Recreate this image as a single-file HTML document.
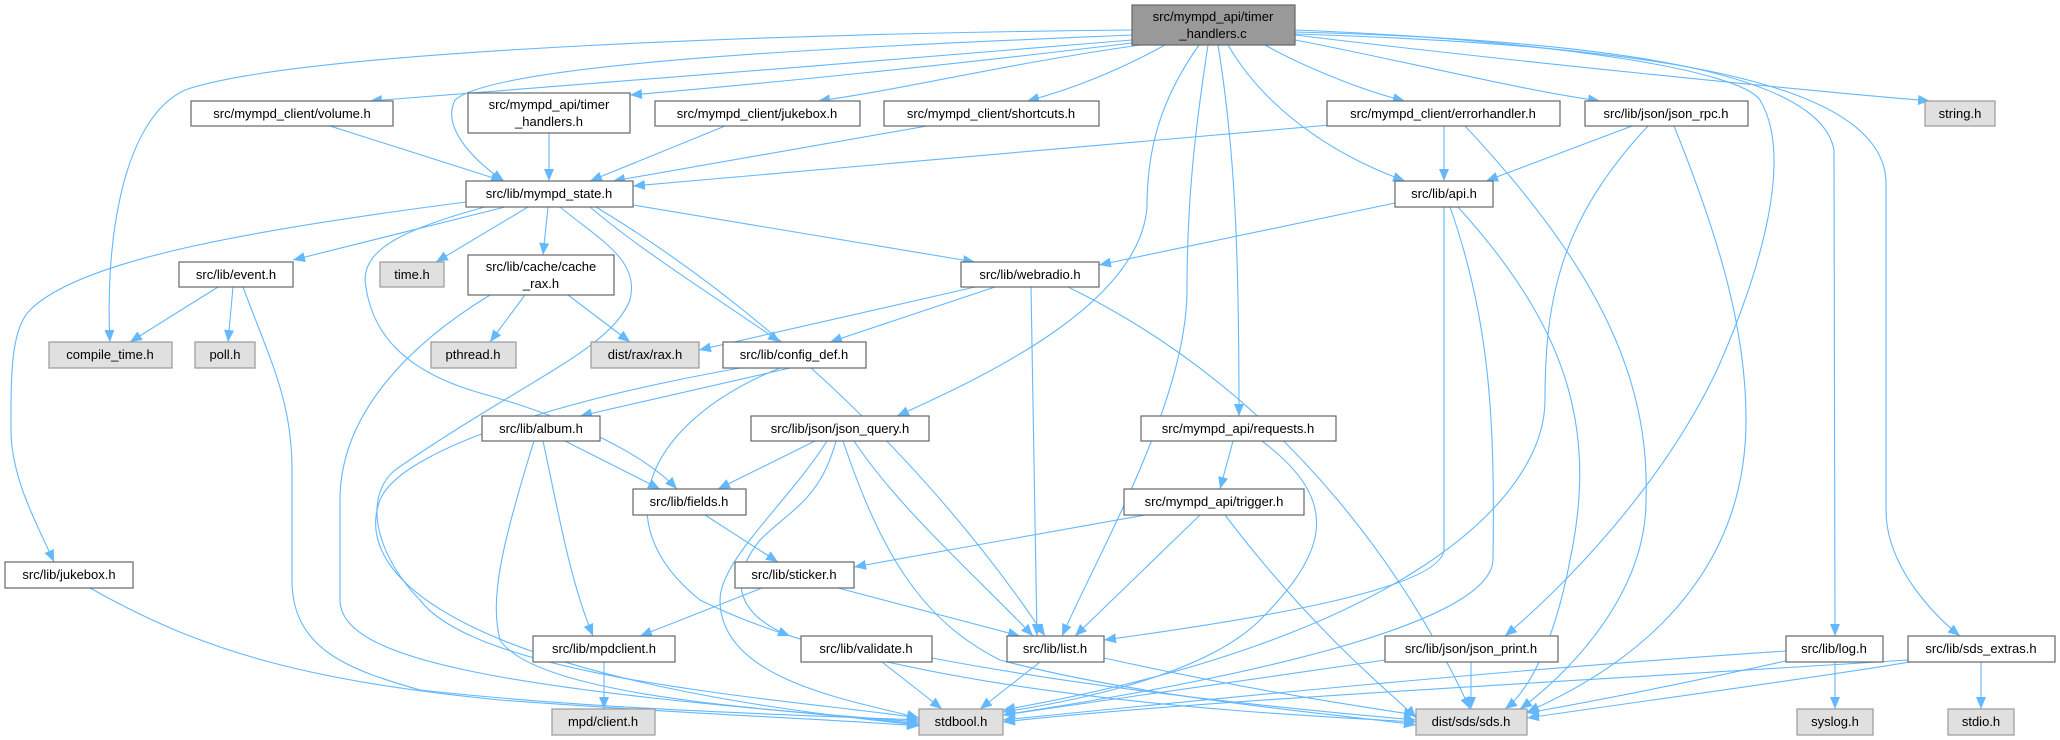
<!DOCTYPE html>
<html><head><meta charset="utf-8"><style>
html,body{margin:0;padding:0;background:#fff;}
svg{display:block;}
text{font-family:"Liberation Sans",Arial,sans-serif;font-size:13px;fill:#000;}
.n{fill:#fff;stroke:#666;stroke-width:1.2}
.g{fill:#e0e0e0;stroke:#999;stroke-width:1.2}
.e path{fill:none;stroke:#63b8ff;stroke-width:1.1}
</style></head><body>
<svg width="2060" height="740" viewBox="0 0 2060 740" xmlns="http://www.w3.org/2000/svg">
<defs><marker id="a" markerUnits="userSpaceOnUse" markerWidth="14" markerHeight="12" refX="12" refY="5" orient="auto"><path d="M0,0 L12,5 L0,10 z" fill="#63b8ff"/></marker></defs>
<g class="e" marker-end="url(#a)">
<path marker-end="url(#a)" d="M1132,30 C800,33 300,50 185,90 C120,120 105,250 110,342"/>
<path marker-end="url(#a)" d="M1132,35 C900,45 500,60 455,100 C440,130 480,165 504,181"/>
<path marker-end="url(#a)" d="M1132,40 C900,60 500,90 370,101"/>
<path marker-end="url(#a)" d="M1132,43 C950,65 750,85 630,95"/>
<path marker-end="url(#a)" d="M1140,45 C1000,65 900,90 818,101"/>
<path marker-end="url(#a)" d="M1165,45 C1120,70 1070,90 1027,101"/>
<path marker-end="url(#a)" d="M1265,45 C1300,65 1360,90 1405,101"/>
<path marker-end="url(#a)" d="M1295,40 C1400,60 1520,90 1600,101"/>
<path marker-end="url(#a)" d="M1295,35 C1500,60 1800,90 1930,101"/>
<path marker-end="url(#a)" d="M1228,45 C1260,100 1320,150 1405,181"/>
<path marker-end="url(#a)" d="M1199,45 C1160,100 1147,150 1147,207 C1140,300 1000,370 897,416"/>
<path marker-end="url(#a)" d="M1208,45 C1195,130 1187,200 1187,290 C1187,400 1100,550 1062,636"/>
<path marker-end="url(#a)" d="M1218,45 C1235,150 1239,250 1239,416"/>
<path marker-end="url(#a)" d="M1295,30 C1550,40 1740,70 1760,100 C1790,150 1770,250 1717,370 C1660,490 1560,590 1505,636"/>
<path marker-end="url(#a)" d="M1295,32 C1600,40 1820,70 1834,150 L1835,636"/>
<path marker-end="url(#a)" d="M1295,34 C1650,45 1880,80 1886,180 L1886,510 C1886,570 1940,620 1960,636"/>
<path marker-end="url(#a)" d="M330,126 L503,181"/>
<path marker-end="url(#a)" d="M549,133 L549,181"/>
<path marker-end="url(#a)" d="M725,126 L590,181"/>
<path marker-end="url(#a)" d="M927,126 L613,181"/>
<path marker-end="url(#a)" d="M1330,125 L633,186"/>
<path marker-end="url(#a)" d="M1444,126 L1444,181"/>
<path marker-end="url(#a)" d="M1465,126 C1600,270 1650,380 1646,500 C1646,600 1560,680 1520,709"/>
<path marker-end="url(#a)" d="M1458,207 C1560,320 1600,420 1570,560 C1555,640 1530,690 1505,709"/>
<path marker-end="url(#a)" d="M1450,207 C1490,320 1495,420 1493,560 C1490,640 1100,700 1003,715"/>
<path marker-end="url(#a)" d="M1444,207 L1444,550 C1440,590 1250,620 1104,640"/>
<path marker-end="url(#a)" d="M1395,203 L1099,265"/>
<path marker-end="url(#a)" d="M1632,126 L1486,181"/>
<path marker-end="url(#a)" d="M1648,126 C1560,220 1545,300 1545,400 C1545,500 1400,640 1003,710"/>
<path marker-end="url(#a)" d="M1674,126 C1720,240 1746,330 1746,420 C1746,600 1600,680 1527,712"/>
<path marker-end="url(#a)" d="M466,202 C250,230 80,260 30,310 C10,330 11,380 11,430 C11,480 40,530 54,562"/>
<path marker-end="url(#a)" d="M505,207 L293,260"/>
<path marker-end="url(#a)" d="M528,207 L436,262"/>
<path marker-end="url(#a)" d="M548,207 L543,255"/>
<path marker-end="url(#a)" d="M633,205 L975,262"/>
<path marker-end="url(#a)" d="M590,207 C640,250 720,300 780,342"/>
<path marker-end="url(#a)" d="M485,207 C400,230 365,250 365,280 C370,330 400,370 480,393 C560,415 640,450 677,489"/>
<path marker-end="url(#a)" d="M596,207 C750,300 920,450 1045,636"/>
<path marker-end="url(#a)" d="M560,207 C600,240 640,260 630,300 C610,350 525,380 395,470 C360,500 380,560 420,600 C480,680 800,700 919,718"/>
<path marker-end="url(#a)" d="M218,287 L130,342"/>
<path marker-end="url(#a)" d="M233,287 L228,342"/>
<path marker-end="url(#a)" d="M243,287 C270,360 292,400 292,470 L292,580 C292,650 350,670 420,690 C600,710 800,715 919,720"/>
<path marker-end="url(#a)" d="M525,295 L490,342"/>
<path marker-end="url(#a)" d="M568,295 L630,342"/>
<path marker-end="url(#a)" d="M490,295 C400,350 340,420 340,500 L340,600 C340,660 500,690 919,722"/>
<path marker-end="url(#a)" d="M975,287 L699,350"/>
<path marker-end="url(#a)" d="M995,287 L830,342"/>
<path marker-end="url(#a)" d="M1031,287 L1037,636"/>
<path marker-end="url(#a)" d="M1068,287 C1300,400 1420,600 1470,709"/>
<path marker-end="url(#a)" d="M790,368 L580,416"/>
<path marker-end="url(#a)" d="M740,368 C560,400 400,450 380,500 C350,580 470,680 919,725"/>
<path marker-end="url(#a)" d="M780,368 C650,420 600,520 700,600 C900,700 1300,715 1416,722"/>
<path marker-end="url(#a)" d="M565,441 L660,489"/>
<path marker-end="url(#a)" d="M543,441 C560,520 570,580 593,636"/>
<path marker-end="url(#a)" d="M534,441 C500,550 490,600 500,640 C540,700 800,710 919,724"/>
<path marker-end="url(#a)" d="M815,441 L718,489"/>
<path marker-end="url(#a)" d="M827,441 C790,500 720,560 720,600 C720,680 850,700 919,718"/>
<path marker-end="url(#a)" d="M836,441 C820,500 790,510 760,540 C720,590 750,620 790,636"/>
<path marker-end="url(#a)" d="M854,441 C900,510 980,580 1033,636"/>
<path marker-end="url(#a)" d="M843,441 C880,550 920,620 1000,660 C1150,700 1350,715 1416,725"/>
<path marker-end="url(#a)" d="M1233,441 L1220,489"/>
<path marker-end="url(#a)" d="M1262,441 C1340,500 1330,550 1260,620 C1200,680 1050,705 1003,712"/>
<path marker-end="url(#a)" d="M1145,515 L854,567"/>
<path marker-end="url(#a)" d="M1200,515 L1075,636"/>
<path marker-end="url(#a)" d="M1225,515 C1320,640 1400,700 1416,718"/>
<path marker-end="url(#a)" d="M705,515 L778,562"/>
<path marker-end="url(#a)" d="M762,588 L640,636"/>
<path marker-end="url(#a)" d="M838,588 L1020,636"/>
<path marker-end="url(#a)" d="M604,662 L604,709"/>
<path marker-end="url(#a)" d="M882,662 L942,709"/>
<path marker-end="url(#a)" d="M932,658 C1100,690 1300,710 1416,720"/>
<path marker-end="url(#a)" d="M1040,662 L980,709"/>
<path marker-end="url(#a)" d="M1104,658 C1250,690 1350,705 1416,715"/>
<path marker-end="url(#a)" d="M1385,660 C1250,680 1100,700 1003,715"/>
<path marker-end="url(#a)" d="M1471,662 L1471,709"/>
<path marker-end="url(#a)" d="M1786,651 C1500,670 1200,700 1003,720"/>
<path marker-end="url(#a)" d="M1790,660 C1700,680 1600,700 1527,713"/>
<path marker-end="url(#a)" d="M1835,662 L1835,709"/>
<path marker-end="url(#a)" d="M1908,660 C1600,680 1200,700 1003,722"/>
<path marker-end="url(#a)" d="M1910,662 C1800,680 1650,700 1527,718"/>
<path marker-end="url(#a)" d="M1981,662 L1981,709"/>
<path marker-end="url(#a)" d="M90,588 C200,650 300,680 500,700 C700,715 850,720 919,726"/>
</g>
<g text-anchor="middle">
<rect x="1132" y="5" width="163" height="40" fill="#999" stroke="#666" stroke-width="1.2"/><text x="1213" y="21">src/mympd_api/timer</text><text x="1213" y="38">_handlers.c</text>
<rect class="n" x="191" y="101" width="202" height="25"/><text x="292" y="118">src/mympd_client/volume.h</text>
<rect class="n" x="468" y="93" width="162" height="40"/><text x="549" y="109">src/mympd_api/timer</text><text x="549" y="126">_handlers.h</text>
<rect class="n" x="655" y="101" width="205" height="25"/><text x="757" y="118">src/mympd_client/jukebox.h</text>
<rect class="n" x="884" y="101" width="215" height="25"/><text x="991" y="118">src/mympd_client/shortcuts.h</text>
<rect class="n" x="1327" y="101" width="233" height="25"/><text x="1443" y="118">src/mympd_client/errorhandler.h</text>
<rect class="n" x="1585" y="101" width="163" height="25"/><text x="1666" y="118">src/lib/json/json_rpc.h</text>
<rect class="g" x="1925" y="101" width="70" height="25"/><text x="1960" y="118">string.h</text>
<rect class="n" x="466" y="181" width="167" height="26"/><text x="549" y="198">src/lib/mympd_state.h</text>
<rect class="n" x="1395" y="181" width="98" height="26"/><text x="1444" y="198">src/lib/api.h</text>
<rect class="n" x="179" y="262" width="114" height="25"/><text x="236" y="279">src/lib/event.h</text>
<rect class="g" x="380" y="262" width="64" height="25"/><text x="412" y="279">time.h</text>
<rect class="n" x="468" y="255" width="146" height="40"/><text x="541" y="271">src/lib/cache/cache</text><text x="541" y="288">_rax.h</text>
<rect class="n" x="961" y="262" width="138" height="25"/><text x="1030" y="279">src/lib/webradio.h</text>
<rect class="g" x="49" y="342" width="123" height="26"/><text x="110" y="359">compile_time.h</text>
<rect class="g" x="195" y="342" width="60" height="26"/><text x="225" y="359">poll.h</text>
<rect class="g" x="431" y="342" width="85" height="26"/><text x="473" y="359">pthread.h</text>
<rect class="g" x="591" y="342" width="108" height="26"/><text x="645" y="359">dist/rax/rax.h</text>
<rect class="n" x="723" y="342" width="143" height="26"/><text x="794" y="359">src/lib/config_def.h</text>
<rect class="n" x="482" y="416" width="118" height="25"/><text x="541" y="433">src/lib/album.h</text>
<rect class="n" x="751" y="416" width="178" height="25"/><text x="840" y="433">src/lib/json/json_query.h</text>
<rect class="n" x="1141" y="416" width="195" height="25"/><text x="1238" y="433">src/mympd_api/requests.h</text>
<rect class="n" x="633" y="489" width="113" height="26"/><text x="689" y="506">src/lib/fields.h</text>
<rect class="n" x="1124" y="489" width="180" height="26"/><text x="1214" y="506">src/mympd_api/trigger.h</text>
<rect class="n" x="5" y="562" width="128" height="26"/><text x="69" y="579">src/lib/jukebox.h</text>
<rect class="n" x="735" y="562" width="119" height="26"/><text x="794" y="579">src/lib/sticker.h</text>
<rect class="n" x="533" y="636" width="142" height="26"/><text x="604" y="653">src/lib/mpdclient.h</text>
<rect class="n" x="801" y="636" width="131" height="26"/><text x="866" y="653">src/lib/validate.h</text>
<rect class="n" x="1007" y="636" width="97" height="26"/><text x="1055" y="653">src/lib/list.h</text>
<rect class="n" x="1385" y="636" width="173" height="26"/><text x="1471" y="653">src/lib/json/json_print.h</text>
<rect class="n" x="1786" y="636" width="97" height="26"/><text x="1834" y="653">src/lib/log.h</text>
<rect class="n" x="1908" y="636" width="147" height="26"/><text x="1981" y="653">src/lib/sds_extras.h</text>
<rect class="g" x="552" y="709" width="103" height="26"/><text x="603" y="726">mpd/client.h</text>
<rect class="g" x="919" y="709" width="84" height="26"/><text x="961" y="726">stdbool.h</text>
<rect class="g" x="1416" y="709" width="111" height="26"/><text x="1471" y="726">dist/sds/sds.h</text>
<rect class="g" x="1797" y="709" width="76" height="26"/><text x="1835" y="726">syslog.h</text>
<rect class="g" x="1948" y="709" width="66" height="26"/><text x="1981" y="726">stdio.h</text>
</g>
</svg>
</body></html>
